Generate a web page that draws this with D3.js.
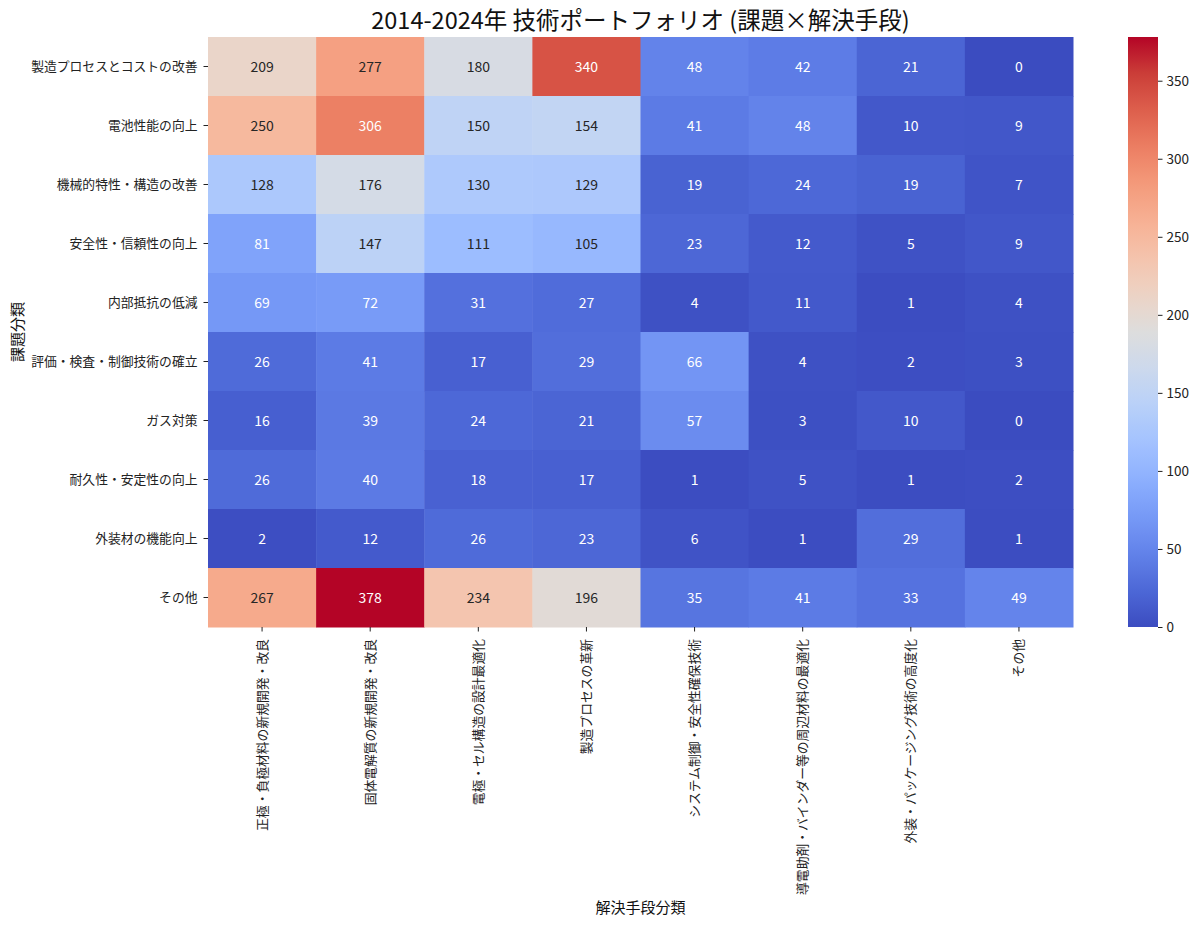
<!DOCTYPE html>
<html>
<head>
<meta charset="utf-8">
<script src="https://cdn.jsdelivr.net/npm/d3@7"></script>
<style>
  body { margin: 0; background: #fff; }
  svg text { font-family: "Noto Sans CJK JP", "Noto Sans", sans-serif; }
</style>
</head>
<body>
<svg id="chart" width="1200" height="926"></svg>
<script>
// Row categories (課題分類)
var problems = [
    "製造プロセスとコストの改善",
    "電池性能の向上",
    "機械的特性・構造の改善",
    "安全性・信頼性の向上",
    "内部抵抗の低減",
    "評価・検査・制御技術の確立",
    "ガス対策",
    "耐久性・安定性の向上",
    "外装材の機能向上",
    "その他"
];

// Column categories (解決手段分類)
var solutions = [
    "正極・負極材料の新規開発・改良",
    "固体電解質の新規開発・改良",
    "電極・セル構造の設計最適化",
    "製造プロセスの革新",
    "システム制御・安全性確保技術",
    "導電助剤・バインダー等の周辺材料の最適化",
    "外装・パッケージング技術の高度化",
    "その他"
];

// counts, one row per problem, in solution order
var counts = [
    [209, 277, 180, 340, 48, 42, 21, 0],
    [250, 306, 150, 154, 41, 48, 10, 9],
    [128, 176, 130, 129, 19, 24, 19, 7],
    [81, 147, 111, 105, 23, 12, 5, 9],
    [69, 72, 31, 27, 4, 11, 1, 4],
    [26, 41, 17, 29, 66, 4, 2, 3],
    [16, 39, 24, 21, 57, 3, 10, 0],
    [26, 40, 18, 17, 1, 5, 1, 2],
    [2, 12, 26, 23, 6, 1, 29, 1],
    [267, 378, 234, 196, 35, 41, 33, 49]
];

var colorbarTicks = [0, 50, 100, 150, 200, 250, 300, 350];

// coolwarm colormap stops
var coolwarm = ["#3b4cc0", "#4d68d7", "#6282ea", "#779af7", "#8db0fe", "#a3c2ff",
    "#b8d0f9", "#ccd9ed", "#dddddd", "#ecd3c5", "#f5c4ad", "#f7b194",
    "#f49a7b", "#ec7f63", "#de604d", "#cb3e38", "#b40426"];

var svg = d3.select("#chart");
var plotLeft = 208, plotRight = 1073, plotTop = 37, plotBottom = 627;

var cells = [];
counts.forEach(function(row, i) {
    row.forEach(function(v, j) {
        cells.push({problem: problems[i], solution: solutions[j], value: v});
    });
});

var vmax = d3.max(cells, function(d) { return d.value; });

var x = d3.scaleBand().domain(solutions).range([plotLeft, plotRight]);
var y = d3.scaleBand().domain(problems).range([plotTop, plotBottom]);

var color = d3.scaleLinear()
    .domain(coolwarm.map(function(c, i) { return vmax * i / (coolwarm.length - 1); }))
    .range(coolwarm)
    .interpolate(d3.interpolateRgb)
    .clamp(true);

// seaborn-like choice of annotation colour
function luminance(c) {
    var rgb = d3.rgb(c);
    var lin = [rgb.r, rgb.g, rgb.b].map(function(v) {
        v = v / 255;
        return v <= 0.03928 ? v / 12.92 : Math.pow((v + 0.055) / 1.055, 2.4);
    });
    return 0.2126 * lin[0] + 0.7152 * lin[1] + 0.0722 * lin[2];
}

svg.append("g")
    .selectAll("rect")
    .data(cells)
    .enter().append("rect")
    .attr("x", function(d) { return x(d.solution); })
    .attr("y", function(d) { return y(d.problem); })
    .attr("width", x.bandwidth() + 0.5)
    .attr("height", y.bandwidth() + 0.5)
    .style("fill", function(d) { return color(d.value); });

svg.append("g")
    .selectAll("text")
    .data(cells)
    .enter().append("text")
    .attr("x", function(d) { return x(d.solution) + x.bandwidth() / 2; })
    .attr("y", function(d) { return y(d.problem) + y.bandwidth() / 2; })
    .attr("text-anchor", "middle")
    .attr("dy", "0.36em")
    .style("font-size", "14px")
    .style("fill", function(d) { return luminance(color(d.value)) > 0.408 ? "#262626" : "#ffffff"; })
    .text(function(d) { return d.value; });

// y axis
var yAxis = svg.append("g")
    .attr("transform", "translate(" + plotLeft + ",0)")
    .call(d3.axisLeft(y).tickSize(4.5).tickPadding(6));
yAxis.select(".domain").remove();
yAxis.selectAll("text").style("font-size", "12.8px").style("fill", "#222");
yAxis.selectAll("line").style("stroke", "#222");

// x axis
var xAxis = svg.append("g")
    .attr("transform", "translate(0," + plotBottom + ")")
    .call(d3.axisBottom(x).tickSize(4.5).tickPadding(6));
xAxis.select(".domain").remove();
xAxis.selectAll("line").style("stroke", "#222");
xAxis.selectAll("text")
    .style("font-size", "12.8px")
    .style("fill", "#222")
    .attr("text-anchor", "end")
    .attr("transform", "rotate(-90)")
    .attr("x", -12)
    .attr("y", 0)
    .attr("dy", "0.35em");

// title and axis labels
svg.append("text")
    .attr("x", (plotLeft + plotRight) / 2)
    .attr("y", 29)
    .attr("text-anchor", "middle")
    .style("font-size", "23.5px")
    .style("fill", "#111")
    .text("2014-2024年 技術ポートフォリオ (課題×解決手段)");

svg.append("text")
    .attr("x", (plotLeft + plotRight) / 2)
    .attr("y", 913)
    .attr("text-anchor", "middle")
    .style("font-size", "15px")
    .style("fill", "#111")
    .text("解決手段分類");

svg.append("text")
    .attr("transform", "translate(23," + (plotTop + plotBottom) / 2 + ") rotate(-90)")
    .attr("text-anchor", "middle")
    .style("font-size", "15px")
    .style("fill", "#111")
    .text("課題分類");

// colorbar
var cbLeft = 1128, cbWidth = 30;
var cbScale = d3.scaleLinear().domain([0, vmax]).range([plotBottom, plotTop]);

var grad = svg.append("defs").append("linearGradient")
    .attr("id", "cbgrad")
    .attr("x1", 0).attr("y1", 1).attr("x2", 0).attr("y2", 0);
grad.selectAll("stop")
    .data(d3.range(0, 1.0001, 0.02))
    .enter().append("stop")
    .attr("offset", function(t) { return t; })
    .attr("stop-color", function(t) { return color(t * vmax); });

svg.append("rect")
    .attr("x", cbLeft)
    .attr("y", plotTop)
    .attr("width", cbWidth)
    .attr("height", plotBottom - plotTop)
    .style("fill", "url(#cbgrad)");

var cbAxis = svg.append("g")
    .attr("transform", "translate(" + (cbLeft + cbWidth) + ",0)")
    .call(d3.axisRight(cbScale).tickValues(colorbarTicks).tickSize(4.5).tickPadding(4));
cbAxis.select(".domain").remove();
cbAxis.selectAll("line").style("stroke", "#222");
cbAxis.selectAll("text").style("font-size", "13.5px").style("fill", "#222");
</script>
</body>
</html>
